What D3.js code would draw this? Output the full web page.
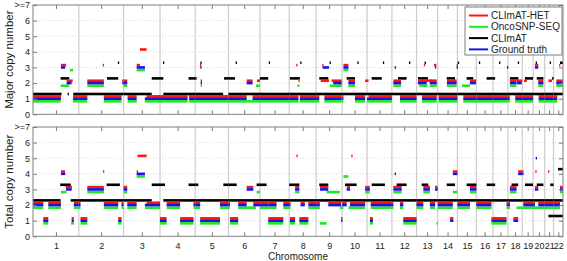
<!DOCTYPE html>
<html lang="en">
<head>
<meta charset="utf-8">
<title>Copy number</title>
<script src="https://cdn.jsdelivr.net/npm/d3@7"></script>
<style>
    body { margin: 0; background: #fff; }
    svg { display: block; font-family: "Liberation Sans", Arial, sans-serif; }
    .axis path { stroke: none; }
    .axis line { stroke: #777; }
    .axis text { fill: #222; font-size: 9px; }
</style>
</head>
<body>
<div id="chart"></div>
<script>
    // chromosome names and lengths (Mb, hg19)
    var chromNames = ['1', '2', '3', '4', '5', '6', '7', '8', '9', '10', '11',
        '12', '13', '14', '15', '16', '17', '18', '19', '20', '21', '22'];
    var chromLength = [249.25, 243.2, 198.02, 191.15, 180.92, 171.12, 159.14, 146.36,
        141.21, 135.53, 135.01, 133.85, 115.17, 107.35, 102.53, 90.35, 81.2, 78.08,
        59.13, 63.03, 48.13, 51.3];
    var yTicks = [0, 1, 2, 3, 4, 5, 6, 7];
    var yTickLabels = ['0', '1', '2', '3', '4', '5', '6', '>=7'];
    var seriesNames = ['CLImAT-HET', 'OncoSNP-SEQ', 'CLImAT', 'Ground truth'];
    var seriesColors = ['#ff1414', '#22e622', '#000000', '#1414e6'];

    // segments: [chromosome, start Mb, end Mb, copy number]
    var majorHet = [
        [1,0,152,1],[1,152,180,3],[1,183,216,2],[1,218,249,1],
        [2,0,46,1],[2,46,136,2],[2,130,134,3],[2,136,232,1],[2,236,243,2],
        [3,0,20,2],[3,22,71,1],[3,71,89,3],[3,89,125,4],[3,125,198,1],
        [4,0,150,1],[4,158,191,1],
        [5,0,181,1],[5,26,30,3],[5,30,36,2],
        [6,0,99,1],[6,99,131,2],[6,131,171,1],[6,155,171,2],
        [7,0,159,1],
        [8,0,50,1],[8,38,44,3],[8,50,56,2],[8,58,146,1],
        [9,0,17,1],[9,25,70,2],[9,33,38,3],[9,45,139,1],[9,84,139,2],
        [10,0,7,1],[10,7,34,3],[10,34,70,2],[10,70,125,1],[10,125,135,2],
        [11,0,8,2],[11,8,135,1],
        [12,8,50,2],[12,44,134,1],
        [13,8,55,2],[13,30,110,1],[13,37,82,2],[13,72,110,2],[13,40,46,3],[13,95,108,3],
        [14,5,107,1],[14,50,103,2],[14,103,107,3],
        [15,32,102,1],[15,68,102,2],
        [16,0,90,1],
        [17,0,81,1],
        [18,0,10,1],[18,11,47,2],[18,40,78,1],[18,47,78,2],
        [19,0,59,1],[19,10,25,2],
        [20,10,28,3],[20,28,56,2],[20,30,63,1],
        [21,0,48,1],[21,20,40,2],
        [22,0,20,1],[22,15,51,2],[22,30,34,3]
    ];
    var majorOnco = [
        [1,0,150,1],[1,150,197,2],[1,201,218,3],[1,218,249,1],
        [2,0,46,1],[2,46,136,2],[2,136,232,1],
        [3,0,20,2],[3,22,71,1],[3,71,116,3],[3,116,198,1],
        [4,0,150,1],[4,158,191,1],
        [5,0,181,1],[5,30,36,2],
        [6,0,171,1],[6,150,171,2],
        [7,0,159,1],
        [8,0,50,1],[8,44,56,2],[8,58,146,1],
        [9,0,17,1],[9,45,139,1],[9,75,139,2],
        [10,0,7,1],[10,7,34,3],[10,34,70,2],[10,70,125,1],
        [11,0,135,1],
        [12,8,50,2],[12,44,134,1],
        [13,15,60,2],[13,30,110,1],[13,72,110,2],
        [14,5,107,1],[14,50,103,2],
        [15,32,102,1],[15,25,68,2],
        [16,0,90,1],
        [17,0,81,1],
        [18,0,10,1],[18,11,47,2],[18,40,78,1],
        [19,0,59,1],
        [20,28,56,2],[20,30,63,1],
        [21,0,48,1],
        [22,0,20,1],[22,15,51,2]
    ];
    var majorClimat = [
        [1,0,155,1],[1,150,197,2],[1,188,193,1],[1,219,249,1],
        [2,0,243,1],[2,153,214,2],[2,212,217,3],
        [3,0,153,1],[3,153,198,2],
        [4,0,18,2],[4,16,20,3],[4,18,191,1],[4,155,191,2],
        [5,0,8,2],[5,0,152,1],[5,28,32,3],[5,157,181,2],
        [6,0,35,2],[6,0,171,1],[6,39,43,3],
        [7,0,45,2],[7,0,159,1],[7,48,52,3],
        [8,0,146,1],[8,4,58,2],[8,60,64,3],
        [9,0,141,1],[9,17,66,2],[9,73,77,3],
        [10,0,135,1],[10,25,70,2],[10,83,87,3],
        [11,0,135,1],[11,25,80,2],[11,86,90,3],
        [12,0,134,1],[12,33,80,2],[12,93,97,3],
        [13,0,115,1],[13,8,62,2],[13,44,48,3],
        [14,0,107,1],[14,49,94,2],
        [15,0,103,1],[15,50,86,2],[15,2,6,3],
        [16,0,90,1],[16,56,90,2],[16,14,18,3],
        [17,0,81,1],[17,0,12,2],[17,33,37,3],
        [18,0,78,1],[18,11,57,2],[18,54,58,3],
        [19,0,59,1],[19,15,59,2],
        [20,0,63,1],[20,20,56,2],[20,14,18,3],
        [21,0,48,1],[21,40,48,2],[21,27,31,3],
        [22,0,51,1],[22,35,51,3]
    ];
    var majorTruth = [
        [1,0,152,1],[1,152,175,3],[1,183,210,2],[1,218,249,1],
        [2,0,46,1],[2,46,136,2],[2,136,232,1],[2,236,243,2],
        [3,0,20,2],[3,22,71,1],[3,71,116,3],[3,116,198,1],
        [4,0,150,1],[4,158,191,1],
        [5,0,181,1],[5,28,34,3],[5,30,36,2],
        [6,0,99,1],[6,99,131,2],[6,131,171,1],
        [7,0,159,1],
        [8,0,50,1],[8,58,146,1],
        [9,0,17,1],[9,35,70,3],[9,45,139,1],[9,93,139,2],
        [10,0,7,1],[10,7,34,3],[10,34,70,2],[10,70,125,1],
        [11,0,135,1],
        [12,8,50,2],[12,15,21,3],[12,44,134,1],
        [13,8,55,2],[13,30,110,1],[13,72,110,2],[13,100,106,3],
        [14,5,107,1],[14,50,103,2],[14,103,107,3],
        [15,32,102,1],[15,68,100,2],
        [16,0,90,1],
        [17,0,81,1],[17,76,80,3],
        [18,0,10,1],[18,11,47,2],[18,40,78,1],[18,50,75,2],
        [19,0,59,1],
        [20,10,28,3],[20,28,56,2],[20,30,63,1],
        [21,0,48,1],
        [22,0,20,1],[22,15,51,2]
    ];

    var totalHet = [
        [1,0,56,2],[1,56,83,1],[1,83,152,2],[1,152,174,4],[1,178,212,3],[1,210,222,1],[1,222,249,2],
        [2,0,9,2],[2,9,46,1],[2,46,136,3],[2,131,135,4],[2,136,214,2],[2,214,232,1],[2,232,243,2],
        [3,0,20,3],[3,20,71,2],[3,71,76,4],[3,76,125,5],[3,125,198,2],
        [4,0,36,1],[4,36,109,2],[4,109,182,1],[4,182,191,2],
        [5,0,27,2],[5,27,135,1],[5,135,181,2],
        [6,0,8,2],[6,8,53,1],[6,53,99,2],[6,99,135,3],[6,135,171,2],
        [7,0,45,2],[7,45,127,1],[7,45,90,2],[7,127,159,2],
        [8,0,4,2],[8,4,32,1],[8,32,55,3],[8,39,43,5],[8,55,104,1],[8,62,85,2],[8,104,146,2],
        [9,0,20,2],[9,21,66,3],[9,66,136,2],[9,136,141,1],
        [10,0,25,2],[10,25,43,3],[10,43,125,2],[10,50,54,5],[10,125,135,3],
        [11,0,15,3],[11,16,32,1],[11,20,135,2],
        [12,0,8,2],[12,8,53,3],[12,44,62,2],[12,62,134,1],
        [13,0,37,2],[13,37,73,3],[13,73,101,2],[13,101,115,3],
        [14,0,82,2],[14,67,85,1],[14,82,107,4],
        [15,0,68,2],[15,68,103,3],
        [16,0,82,2],[16,82,90,1],
        [17,0,74,1],[17,74,81,2],
        [18,0,11,2],[18,11,47,3],[18,30,56,1],[18,56,78,4],
        [19,0,6,4],[19,6,59,2],
        [20,0,10,2],[20,10,28,3],[20,12,16,4],[20,28,63,2],
        [21,0,48,2],[21,18,22,4],
        [22,0,35,2],[22,35,51,3]
    ];
    var totalOnco = [
        [1,0,56,2],[1,56,83,1],[1,83,152,2],[1,152,182,3],[1,207,223,1],[1,222,249,2],
        [2,0,9,2],[2,9,46,1],[2,46,136,3],[2,136,214,2],[2,214,232,1],[2,232,243,2],
        [3,0,20,3],[3,20,71,2],[3,71,116,4],[3,116,198,2],
        [4,0,36,1],[4,36,109,2],[4,109,182,1],[4,182,191,2],
        [5,0,27,2],[5,27,135,1],[5,135,181,2],
        [6,0,8,2],[6,8,53,1],[6,53,150,2],[6,153,171,3],
        [7,0,45,2],[7,45,127,1],[7,45,90,2],[7,127,159,2],
        [8,0,4,2],[8,4,32,1],[8,32,55,3],[8,55,104,1],[8,104,146,2],
        [9,0,20,2],[9,20,57,1],[9,57,129,3],[9,129,141,2],
        [10,0,7,2],[10,7,34,4],[10,34,125,2],[10,125,135,3],
        [11,0,15,3],[11,16,32,1],[11,20,135,2],
        [12,0,8,2],[12,8,53,3],[12,44,62,2],[12,62,134,1],
        [13,0,37,2],[13,37,73,3],[13,73,101,2],[13,108,115,1],
        [14,0,82,2],[14,82,107,3],
        [15,0,68,2],[15,68,103,3],
        [16,0,82,2],[16,82,90,1],
        [17,0,74,1],[17,74,81,2],
        [18,0,11,2],[18,11,47,3],[18,47,78,2],
        [19,0,59,2],
        [20,0,63,2],
        [21,0,48,2],
        [22,0,35,2],[22,35,51,3]
    ];
    var totalClimat = [
        [1,0,150,2],[1,148,205,3],[1,205,249,2],
        [2,0,243,2],[2,151,223,3],
        [3,0,153,2],[3,153,198,3],
        [4,0,27,3],[4,18,191,2],[4,155,191,3],
        [5,0,17,3],[5,0,181,2],[5,153,181,3],
        [6,0,45,3],[6,0,171,2],[6,153,171,3],
        [7,0,36,3],[7,0,159,2],
        [8,0,55,3],[8,0,146,2],
        [9,0,141,2],[9,17,66,3],
        [10,0,135,2],[10,16,79,3],
        [11,0,135,2],[11,25,97,3],
        [12,0,134,2],[12,26,80,3],
        [13,0,115,2],[13,28,64,3],
        [14,0,107,2],[14,49,94,3],
        [15,0,103,2],[15,50,103,3],
        [16,0,90,2],[16,56,90,3],
        [17,0,81,2],[17,0,12,3],
        [18,0,78,2],[18,20,56,3],
        [19,0,59,2],[19,15,59,3],
        [20,0,63,2],[20,20,56,3],
        [21,0,48,2],[21,20,48,1],[21,30,48,3],
        [22,0,51,2],[22,0,51,1],[22,24,51,4]
    ];
    var totalTruth = [
        [1,0,56,2],[1,56,83,1],[1,83,152,2],[1,152,175,4],[1,180,210,3],[1,210,222,1],[1,222,249,2],
        [2,0,9,2],[2,9,46,1],[2,46,136,3],[2,136,214,2],[2,214,232,1],[2,232,243,2],
        [3,0,20,3],[3,20,71,2],[3,71,116,4],[3,116,198,2],
        [4,0,36,1],[4,36,109,2],[4,109,182,1],[4,182,191,2],
        [5,0,27,2],[5,27,135,1],[5,135,181,2],
        [6,0,8,2],[6,8,53,1],[6,53,99,2],[6,99,135,3],[6,135,171,2],
        [7,0,45,2],[7,45,127,1],[7,45,90,2],[7,127,159,2],
        [8,0,4,2],[8,4,32,1],[8,32,55,3],[8,55,104,1],[8,62,85,2],[8,104,146,2],
        [9,0,20,2],[9,21,66,3],[9,66,136,2],[9,136,141,1],
        [10,0,25,2],[10,25,43,3],[10,43,125,2],[10,125,135,3],
        [11,0,15,3],[11,16,32,1],[11,20,135,2],
        [12,0,8,2],[12,8,53,3],[12,15,21,4],[12,44,62,2],[12,62,134,1],
        [13,0,37,2],[13,37,73,3],[13,73,101,2],[13,101,115,3],
        [14,0,82,2],[14,67,85,1],[14,82,107,4],
        [15,0,68,2],[15,68,103,3],
        [16,0,82,2],[16,82,90,1],
        [17,0,74,1],[17,74,81,2],
        [18,0,11,2],[18,11,47,3],[18,30,56,1],[18,56,78,4],
        [19,0,6,4],[19,6,59,2],
        [20,0,10,2],[20,10,28,3],[20,14,18,5],[20,28,63,2],
        [21,0,48,2],
        [22,0,35,2],[22,35,51,3]
    ];

    var svgWidth = 567;
    var svgHeight = 261;
    var plotLeft = 33;
    var plotRight = 563;
    // vertical offset of each series so the bands do not overlap
    var seriesOffset = [0.15, -0.17, 0.3, 0];
    var barHeight = 2.6;

    var chromStart = [];
    var acc = 0;
    chromLength.forEach(function (l) { chromStart.push(acc); acc += l; });
    var genomeLength = acc;
    var chromCenter = chromLength.map(function (l, i) { return chromStart[i] + l / 2; });

    var xScale = d3.scaleLinear()
        .domain([0, genomeLength])
        .range([plotLeft, plotRight]);

    var panels = [
        { title: 'Major copy number', top: 5, bottom: 114.3, series: [majorHet, majorOnco, majorClimat, majorTruth], labels: false },
        { title: 'Total copy number', top: 127, bottom: 236.3, series: [totalHet, totalOnco, totalClimat, totalTruth], labels: true }
    ];

    var svg = d3.select('#chart')
        .append('svg')
        .attr('width', svgWidth)
        .attr('height', svgHeight);

    panels.forEach(function (p) {
        var yScale = d3.scaleLinear().domain([0, 7]).range([p.bottom, p.top]);
        var g = svg.append('g');

        // dotted horizontal grid
        g.selectAll('.hgrid')
            .data(yTicks.slice(1, 7))
            .enter()
            .append('line')
            .attr('x1', plotLeft).attr('x2', plotRight)
            .attr('y1', function (d) { return yScale(d); })
            .attr('y2', function (d) { return yScale(d); })
            .attr('stroke', '#d0d0d0')
            .attr('stroke-width', 0.8)
            .attr('stroke-dasharray', '1,2');

        // chromosome boundaries
        g.selectAll('.vgrid')
            .data(chromStart.slice(1))
            .enter()
            .append('line')
            .attr('x1', function (d) { return xScale(d); })
            .attr('x2', function (d) { return xScale(d); })
            .attr('y1', p.top).attr('y2', p.bottom)
            .attr('stroke', '#cccccc')
            .attr('stroke-width', 1.2);

        // segments, drawn per series
        [2, 0, 1, 3].forEach(function (s) {
            g.selectAll('.seg' + s)
                .data(p.series[s])
                .enter()
                .append('rect')
                .attr('x', function (d) { return xScale(chromStart[d[0] - 1] + d[1]); })
                .attr('width', function (d) {
                    return Math.max(1.3, xScale(chromStart[d[0] - 1] + d[2]) - xScale(chromStart[d[0] - 1] + d[1]));
                })
                .attr('y', function (d) { return yScale(d[3] + seriesOffset[s]) - barHeight / 2; })
                .attr('height', barHeight)
                .attr('fill', seriesColors[s]);
        });

        // axes
        var xBottom = d3.axisBottom(xScale).tickValues(chromCenter).tickSizeInner(-4).tickSizeOuter(0).tickPadding(6)
            .tickFormat(function (d, i) { return p.labels ? chromNames[i] : ''; });
        var xTop = d3.axisTop(xScale).tickValues(chromCenter).tickSizeInner(-4).tickSizeOuter(0).tickFormat('');
        var yLeft = d3.axisLeft(yScale).tickValues(yTicks).tickSizeInner(-4).tickSizeOuter(0).tickPadding(3)
            .tickFormat(function (d) { return yTickLabels[d]; });
        var yRight = d3.axisRight(yScale).tickValues(yTicks).tickSizeInner(-4).tickSizeOuter(0).tickFormat('');

        g.append('g').attr('class', 'axis').attr('transform', 'translate(0,' + p.bottom + ')').call(xBottom);
        g.append('g').attr('class', 'axis').attr('transform', 'translate(0,' + p.top + ')').call(xTop);
        g.append('g').attr('class', 'axis').attr('transform', 'translate(' + plotLeft + ',0)').call(yLeft);
        g.append('g').attr('class', 'axis').attr('transform', 'translate(' + plotRight + ',0)').call(yRight);

        g.append('rect')
            .attr('x', plotLeft).attr('y', p.top)
            .attr('width', plotRight - plotLeft).attr('height', p.bottom - p.top)
            .attr('fill', 'none')
            .attr('stroke', '#808080')
            .attr('stroke-width', 1);

        g.append('text')
            .attr('transform', 'translate(13,' + (p.top + p.bottom) / 2 + ') rotate(-90)')
            .attr('text-anchor', 'middle')
            .attr('font-size', 11.5)
            .attr('fill', '#222')
            .text(p.title);
    });

    svg.append('text')
        .attr('x', (plotLeft + plotRight) / 2)
        .attr('y', 259.5)
        .attr('text-anchor', 'middle')
        .attr('font-size', 10)
        .attr('fill', '#222')
        .text('Chromosome');

    // legend
    var legend = svg.append('g').attr('transform', 'translate(465,7)');
    legend.append('rect')
        .attr('width', 97).attr('height', 48)
        .attr('fill', '#fff')
        .attr('stroke', '#808080');
    var item = legend.selectAll('.item')
        .data(seriesNames)
        .enter()
        .append('g')
        .attr('transform', function (d, i) { return 'translate(0,' + (8.5 + i * 11.3) + ')'; });
    item.append('line')
        .attr('x1', 4).attr('x2', 23)
        .attr('stroke', function (d, i) { return seriesColors[i]; })
        .attr('stroke-width', 2);
    item.append('text')
        .attr('x', 26)
        .attr('dy', '0.35em')
        .attr('font-size', 10)
        .attr('fill', '#222')
        .text(function (d) { return d; });
</script>
</body>
</html>
